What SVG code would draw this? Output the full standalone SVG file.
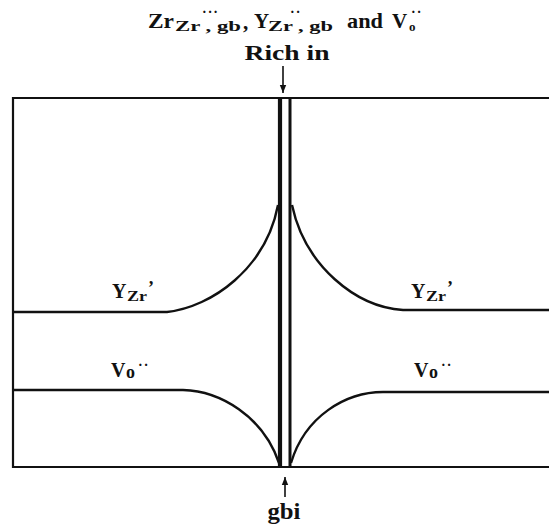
<svg xmlns="http://www.w3.org/2000/svg" width="549" height="524" viewBox="0 0 549 524">
<style>
.t{font-family:"Liberation Serif","DejaVu Serif",serif;font-weight:bold;fill:#111}
.s{font-family:"Liberation Serif","DejaVu Serif",serif;font-weight:bold;fill:#111}
.ln{fill:none;stroke:#111;stroke-width:2.2}
.cv{fill:none;stroke:#111;stroke-width:2.4}
.ar{fill:none;stroke:#111;stroke-width:1.6}
</style>
<defs>
<marker id="ah" viewBox="0 0 10 10" refX="10" refY="5" markerWidth="8" markerHeight="10" markerUnits="userSpaceOnUse" orient="auto">
<path d="M0,1 L10,5 L0,9 Z" fill="#111"/>
</marker>
</defs>
<rect width="549" height="524" fill="#fff"/>
<g id="frame">
<path class="ln" d="M549,98 H13 V467 H549"/>
</g>
<g id="gb">
<line x1="280" y1="98" x2="280" y2="467" stroke="#111" stroke-width="4.2"/>
<line x1="290" y1="98" x2="290" y2="467" stroke="#111" stroke-width="3"/>
</g>
<g id="curves">
<path class="cv" d="M13,312 H167 C212,307 266,268 278,205"/>
<path class="cv" d="M292,205 C305,266 356,307 403,310 H549"/>
<path class="cv" d="M13,390 H183 C220,391 263,416 279,463"/>
<path class="cv" d="M291,463 C305,416 346,392 383,392 H549"/>
</g>
<g id="connectors">
<line class="ar" x1="283" y1="66" x2="283" y2="93" marker-end="url(#ah)"/>
<line class="ar" x1="285" y1="497" x2="285" y2="477" marker-end="url(#ah)"/>
</g>
<g id="title">
<text class="t" font-size="21" x="148" y="28" textLength="26" lengthAdjust="spacingAndGlyphs">Zr</text>
<text class="s" font-size="14" x="175" y="31" textLength="66" lengthAdjust="spacingAndGlyphs">Zr , gb</text>
<text class="s" font-size="14" x="202" y="17" letter-spacing="1">···</text>
<text class="t" font-size="21" x="243" y="29">,</text>
<text class="t" font-size="21" x="254" y="28">Y</text>
<text class="s" font-size="14" x="268" y="31" textLength="65" lengthAdjust="spacingAndGlyphs">Zr , gb</text>
<text class="s" font-size="14" x="290" y="17" letter-spacing="1">··</text>
<text class="t" font-size="21" x="347" y="28" textLength="36" lengthAdjust="spacingAndGlyphs">and</text>
<text class="t" font-size="21" x="392" y="28">V</text>
<text class="s" font-size="13" x="409" y="31">o</text>
<text class="s" font-size="14" x="411" y="17" letter-spacing="1">··</text>
<text class="t" font-size="21" x="287" y="60" text-anchor="middle" textLength="85" lengthAdjust="spacingAndGlyphs">Rich in</text>
</g>
<g id="label-y-left">
<text class="t" font-size="20" x="112" y="298">Y</text>
<text class="s" font-size="14" x="127" y="301" textLength="20" lengthAdjust="spacingAndGlyphs">Zr</text>
<text class="t" font-size="18" x="148" y="294">’</text>
</g>
<g id="label-y-right">
<text class="t" font-size="20" x="411" y="298">Y</text>
<text class="s" font-size="14" x="426" y="301" textLength="20" lengthAdjust="spacingAndGlyphs">Zr</text>
<text class="t" font-size="18" x="447" y="294">’</text>
</g>
<g id="label-v-left">
<text class="t" font-size="20" x="111" y="377">V</text>
<text class="t" font-size="18" x="126" y="378">o</text>
<text class="s" font-size="14" x="138" y="370" letter-spacing="1">··</text>
</g>
<g id="label-v-right">
<text class="t" font-size="20" x="414" y="377">V</text>
<text class="t" font-size="18" x="429" y="378">o</text>
<text class="s" font-size="14" x="441" y="370" letter-spacing="1">··</text>
</g>
<g id="label-gbi">
<text class="t" font-size="23" x="284" y="519" text-anchor="middle" textLength="33" lengthAdjust="spacingAndGlyphs">gbi</text>
</g>
</svg>
